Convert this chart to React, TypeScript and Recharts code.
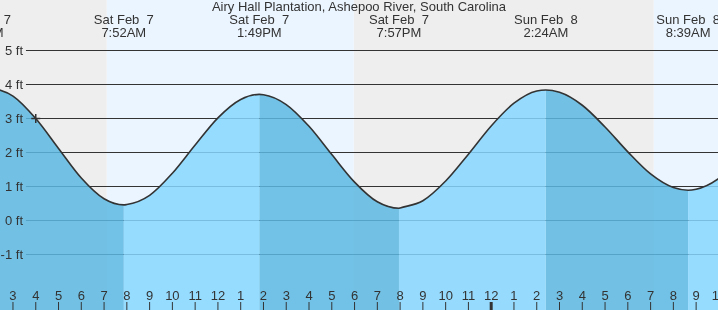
import {
  Area,
  ComposedChart,
  Line,
  ReferenceArea,
  ReferenceDot,
  ReferenceLine,
  XAxis,
  YAxis
} from 'recharts';

const CHART_W = 718;
const CHART_H = 310;
const INK = '#333333';
const FONT = '"Liberation Sans", Arial, sans-serif';

const TITLE = 'Airy Hall Plantation, Ashepoo River, South Carolina';

// hours counted from midnight starting Sat Feb 7
const HOURS = [
  1.6, 2, 3, 4, 5, 6, 7, 7.867, 8, 9, 10, 11, 12, 13, 13.817, 14, 15, 16, 17, 18, 19, 19.95,
  20, 21, 22, 23, 24, 25, 26, 26.4, 27, 28, 29, 30, 31, 32, 32.65, 33, 34, 35
];
const TIDE_FT = [
  3.92, 3.9, 3.66, 3.0, 2.12, 1.25, 0.64, 0.46, 0.47, 0.74, 1.39, 2.22, 3.02, 3.56, 3.71, 3.7, 3.41,
  2.77, 1.94, 1.13, 0.55, 0.36, 0.37, 0.58, 1.16, 1.95, 2.78, 3.45, 3.81, 3.84, 3.77, 3.39, 2.75,
  2.02, 1.37, 0.97, 0.89, 0.92, 1.24, 1.88
];

const EVENT_HOURS = [1.6, 7.867, 13.817, 19.95, 26.4, 32.65];
const EVENT_KIND = ['high', 'low', 'high', 'low', 'high', 'low'];
const EVENT_DAY = ['Sat Feb  7', 'Sat Feb  7', 'Sat Feb  7', 'Sat Feb  7', 'Sun Feb  8', 'Sun Feb  8'];
const EVENT_TIME = ['1:36AM', '7:52AM', '1:49PM', '7:57PM', '2:24AM', '8:39AM'];

const TICK_HOURS = [
  3, 4, 5, 6, 7, 8, 9, 10, 11, 12, 13, 14, 15, 16, 17, 18, 19, 20, 21, 22, 23, 24, 25, 26, 27, 28,
  29, 30, 31, 32, 33, 34
];
const TICK_LABELS = [
  '3', '4', '5', '6', '7', '8', '9', '10', '11', '12', '1', '2', '3', '4', '5', '6', '7', '8', '9',
  '10', '11', '12', '1', '2', '3', '4', '5', '6', '7', '8', '9', '10'
];

const FT_TICKS = [-1, 0, 1, 2, 3, 4, 5];

const NIGHTS = [[0, 7.12], [17.96, 31.14]];
const DAYS = [[7.12, 17.96], [31.14, 36]];

const NOW_HOUR = 4;
const NOW_FT = 3;

const X_DOMAIN = [2.43, 33.96];
const Y_DOMAIN = [-2.6323, 6.4853];
const GRID_START_HOUR = 3.57;

const data = HOURS.map((h, i) => {
  const v = TIDE_FT[i];
  const atEvent = EVENT_HOURS.includes(h);
  let k = -1;
  EVENT_HOURS.forEach((e, j) => {
    if (e <= h) k = j;
  });
  const falling = k >= 0 && EVENT_KIND[k] === 'high';
  return {
    h,
    tide: v,
    fall: falling || atEvent ? v : null,
    rise: !falling || atEvent ? v : null
  };
});

function HourTick(props: any) {
  const { x, payload } = props;
  const i = TICK_HOURS.indexOf(payload.value);
  const midnight = payload.value === 24;
  return (
    <g>
      <line x1={x} x2={x} y1={CHART_H - 8} y2={CHART_H} stroke={INK} strokeWidth={midnight ? 3 : 1} />
      <text x={x} y={CHART_H - 10} textAnchor="middle" fill={INK} fontSize={13} fontFamily={FONT}>
        {TICK_LABELS[i]}
      </text>
    </g>
  );
}

function EventTick(props: any) {
  const { x, payload } = props;
  const i = EVENT_HOURS.indexOf(payload.value);
  return (
    <g>
      <text x={x} y={24} textAnchor="middle" fill={INK} fontSize={13} fontFamily={FONT} style={{ whiteSpace: 'pre' }}>
        {EVENT_DAY[i]}
      </text>
      <text x={x} y={36.5} textAnchor="middle" fill={INK} fontSize={13} fontFamily={FONT}>
        {EVENT_TIME[i]}
      </text>
    </g>
  );
}

function FeetTick(props: any) {
  const { y, payload } = props;
  return (
    <text x={23} y={y} dy={4.5} textAnchor="end" fill={INK} fontSize={13} fontFamily={FONT}>
      {`${payload.value} ft`}
    </text>
  );
}

function NowCross(props: any) {
  const { cx, cy } = props;
  return (
    <g stroke={INK} strokeWidth={1.5}>
      <line x1={cx - 4.5} x2={cx + 4.5} y1={cy} y2={cy} />
      <line x1={cx} x2={cx} y1={cy - 4.5} y2={cy + 4.5} />
    </g>
  );
}

export default function App(): React.ReactElement {
  return (
    <div style={{ position: 'fixed', left: 0, top: 0, width: CHART_W, height: CHART_H, overflow: 'hidden' }}>
      <ComposedChart width={CHART_W} height={CHART_H} data={data} margin={{ top: -1, right: 0, bottom: -1, left: -1 }}>
        {NIGHTS.map(([a, b]) => (
          <ReferenceArea key={`n${a}`} xAxisId="hours" x1={a} x2={b} fill="#eeeeee" fillOpacity={1} stroke="none" ifOverflow="hidden" zIndex={-200} />
        ))}
        {DAYS.map(([a, b]) => (
          <ReferenceArea key={`d${a}`} xAxisId="hours" x1={a} x2={b} fill="#ebf5ff" fillOpacity={1} stroke="none" ifOverflow="hidden" zIndex={-200} />
        ))}
        {FT_TICKS.map((v) => (
          <ReferenceLine
            key={`g${v}`}
            xAxisId="hours"
            segment={[{ x: GRID_START_HOUR, y: v }, { x: 36, y: v }]}
            stroke={INK}
            strokeWidth={1}
            ifOverflow="hidden"
            zIndex={-150}
          />
        ))}
        <Area
          xAxisId="hours"
          type="monotone"
          dataKey="fall"
          stroke="none"
          fill="#5cb8e2"
          fillOpacity={0.85}
          baseValue="dataMin"
          isAnimationActive={false}
          connectNulls={false}
        />
        <Area
          xAxisId="hours"
          type="monotone"
          dataKey="rise"
          stroke="none"
          fill="#86d7ff"
          fillOpacity={0.85}
          baseValue="dataMin"
          isAnimationActive={false}
          connectNulls={false}
        />
        <Line
          xAxisId="hours"
          type="monotone"
          dataKey="tide"
          stroke={INK}
          strokeWidth={1.6}
          dot={false}
          activeDot={false}
          isAnimationActive={false}
        />
        <ReferenceDot xAxisId="hours" x={NOW_HOUR} y={NOW_FT} r={4} shape={(p: any) => <NowCross {...p} />} />
        <XAxis
          xAxisId="hours"
          dataKey="h"
          type="number"
          domain={X_DOMAIN}
          allowDataOverflow
          ticks={TICK_HOURS}
          interval={0}
          height={1}
          axisLine={false}
          tickLine={false}
          tick={<HourTick />}
        />
        <XAxis
          xAxisId="events"
          orientation="top"
          dataKey="h"
          type="number"
          domain={X_DOMAIN}
          allowDataOverflow
          ticks={EVENT_HOURS}
          interval={0}
          height={1}
          axisLine={false}
          tickLine={false}
          tick={<EventTick />}
        />
        <YAxis
          type="number"
          domain={Y_DOMAIN}
          allowDataOverflow
          ticks={FT_TICKS}
          interval={0}
          width={1}
          axisLine={false}
          tickLine={false}
          tick={<FeetTick />}
        />
        <text x={CHART_W / 2} y={11} textAnchor="middle" fill={INK} fontSize={13} fontFamily={FONT}>
          {TITLE}
        </text>
      </ComposedChart>
    </div>
  );
}
